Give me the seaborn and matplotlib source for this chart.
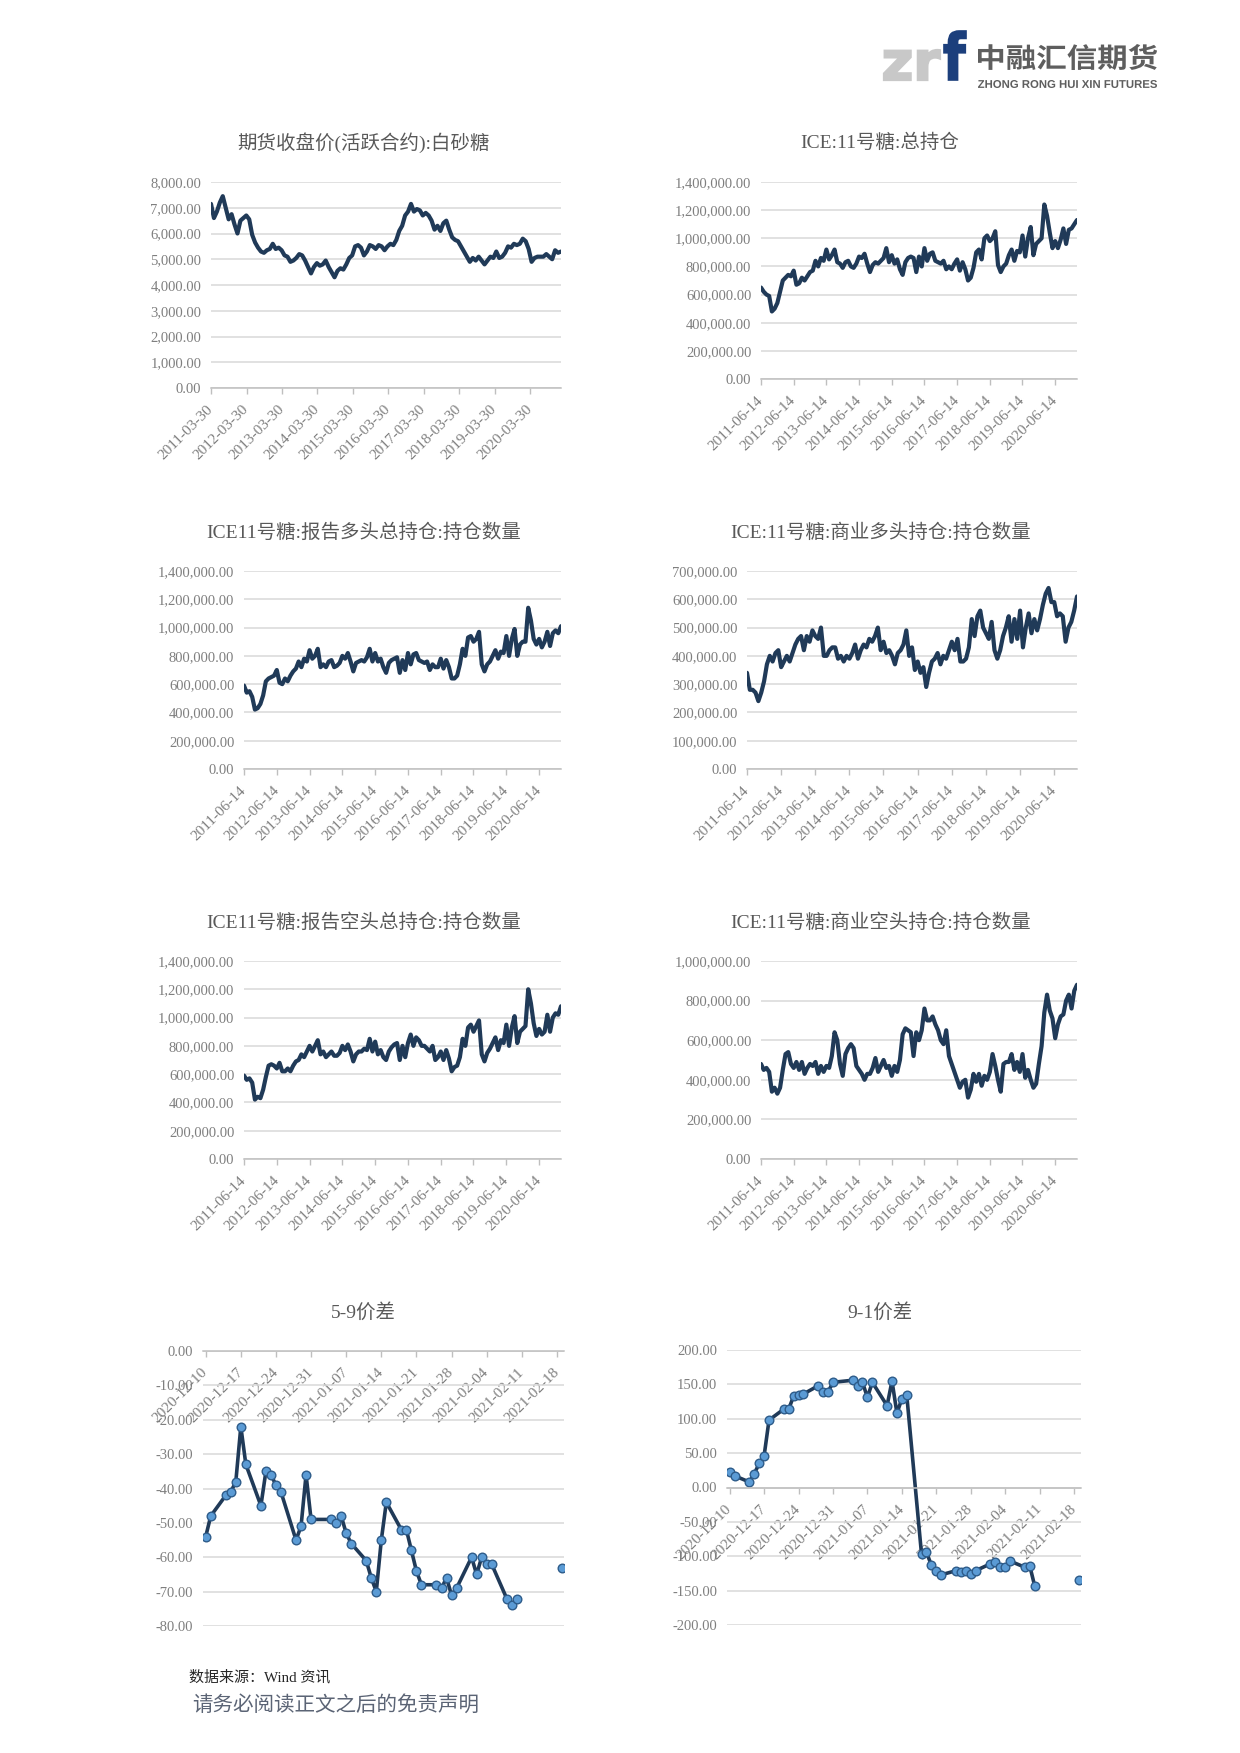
import numpy as np
import pandas as pd
import matplotlib
matplotlib.use('Agg')
import matplotlib.pyplot as plt
from matplotlib.ticker import FuncFormatter
from matplotlib.textpath import TextPath
from matplotlib.patches import PathPatch
from matplotlib.font_manager import FontProperties
import matplotlib.transforms as mtransforms
import seaborn as sns

sns.set_theme(style='white')
plt.rcParams['font.family'] = ['Liberation Serif', 'Noto Sans CJK SC', 'DejaVu Sans']
plt.rcParams['axes.unicode_minus'] = False

# ---------------- data ----------------
price_start, price_end = '2011-03-30', '2021-02-12'
price_tick_labels = ['2011-03-30', '2012-03-30', '2013-03-30', '2014-03-30', '2015-03-30',
                     '2016-03-30', '2017-03-30', '2018-03-30', '2019-03-30', '2020-03-30']
sugar_price = [7150, 6600, 6850, 7200, 7450, 7000, 6550, 6750, 6350, 6000,
               6500, 6600, 6700, 6550, 5950, 5650, 5450, 5300, 5250, 5350,
               5400, 5600, 5400, 5450, 5350, 5150, 5100, 4900, 4950, 5050,
               5200, 5150, 4950, 4700, 4450, 4700, 4850, 4750, 4800, 4950,
               4700, 4500, 4300, 4550, 4650, 4600, 4800, 5050, 5150, 5500,
               5550, 5450, 5150, 5300, 5550, 5500, 5400, 5550, 5500, 5350,
               5500, 5600, 5550, 5750, 6100, 6300, 6700, 6850, 7150, 6850,
               6950, 6900, 6700, 6800, 6700, 6500, 6150, 6300, 6100, 6400,
               6500, 6150, 5850, 5750, 5700, 5500, 5300, 5100, 4900, 5050,
               4950, 5100, 4950, 4800, 4950, 5100, 5050, 5300, 5050, 5100,
               5250, 5500, 5450, 5600, 5550, 5600, 5800, 5700, 5400, 4900,
               5050, 5100, 5100, 5100, 5200, 5100, 5000, 5350, 5250, 5300]

ice_start, ice_end = '2011-06-14', '2021-02-16'
ice_tick_labels = ['2011-06-14', '2012-06-14', '2013-06-14', '2014-06-14', '2015-06-14',
                   '2016-06-14', '2017-06-14', '2018-06-14', '2019-06-14', '2020-06-14']
# values in thousands of contracts
ice_total_k = [650, 620, 600, 590, 480, 500, 540, 620, 700, 720,
               740, 730, 770, 670, 680, 720, 700, 730, 760, 770,
               840, 800, 860, 840, 920, 850, 880, 920, 830, 820,
               790, 830, 840, 800, 790, 820, 870, 860, 890, 820,
               760, 810, 830, 820, 840, 860, 930, 830, 880, 820,
               850, 780, 740, 830, 860, 870, 860, 760, 870, 800,
               930, 840, 890, 900, 840, 830, 820, 840, 780, 800,
               780, 820, 850, 770, 830, 780, 700, 720, 790, 900,
               920, 850, 1000, 1020, 980, 1000, 1050, 810, 760, 800,
               820, 880, 920, 840, 910, 900, 1020, 870, 1000, 1080,
               880, 960, 980, 1000, 1240, 1160, 1040, 930, 980, 930,
               990, 1070, 960, 1060, 1070, 1100, 1130]
long_total_k = [590, 540, 550, 510, 420, 430, 460, 520, 620, 640,
                650, 660, 700, 610, 600, 640, 620, 660, 690, 710,
                760, 720, 780, 760, 840, 780, 800, 850, 720, 740,
                720, 760, 770, 720, 730, 750, 800, 780, 820, 760,
                690, 750, 760, 770, 760, 790, 850, 760, 820, 760,
                780, 720, 680, 750, 770, 780, 790, 680, 770, 700,
                820, 740, 810, 820, 770, 760, 750, 760, 700, 740,
                720, 720, 780, 710, 770, 720, 640, 640, 660, 740,
                850, 800, 930, 940, 900, 920, 970, 740, 690, 740,
                760, 800, 840, 780, 830, 820, 940, 800, 920, 990,
                800, 880, 900, 900, 1140, 1050, 920, 880, 920, 860,
                900, 970, 870, 960, 980, 960, 1010]
comm_long_k = [340, 280, 280, 270, 240, 270, 310, 370, 400, 380,
               410, 420, 360, 380, 400, 380, 410, 440, 460, 470,
               420, 470, 450, 490, 470, 460, 500, 400, 400, 420,
               430, 430, 390, 400, 380, 400, 390, 410, 440, 390,
               420, 440, 430, 460, 450, 470, 500, 420, 450, 410,
               420, 400, 370, 410, 420, 440, 490, 400, 430, 350,
               380, 340, 360, 290, 340, 380, 390, 410, 370, 400,
               390, 420, 450, 420, 460, 380, 380, 390, 430, 530,
               470, 540, 560, 500, 480, 460, 520, 420, 390, 420,
               470, 500, 540, 450, 530, 460, 560, 430, 500, 550,
               480, 530, 490, 530, 580, 620, 640, 590, 590, 540,
               550, 540, 450, 500, 520, 560, 610]
short_total_k = [590, 560, 570, 540, 420, 440, 430, 490, 580, 660,
                 670, 660, 640, 680, 620, 620, 640, 620, 660, 690,
                 700, 740, 720, 760, 800, 760, 800, 840, 740, 760,
                 720, 740, 760, 730, 730, 750, 800, 770, 810, 760,
                 690, 740, 760, 760, 780, 770, 850, 760, 830, 740,
                 770, 720, 700, 760, 790, 810, 820, 700, 800, 720,
                 820, 880, 800, 860, 840, 800, 800, 780, 760, 800,
                 700, 720, 760, 700, 770, 710, 620, 650, 660, 720,
                 850, 800, 930, 950, 900, 940, 980, 740, 690, 750,
                 780, 820, 860, 770, 840, 820, 950, 800, 930, 1010,
                 820, 900, 920, 940, 1200, 1100, 960, 870, 920, 880,
                 900, 1020, 900, 1000, 1030, 1020, 1080]
comm_short_k = [480, 450, 460, 440, 340, 360, 330, 360, 450, 530,
                540, 480, 460, 490, 450, 490, 430, 460, 480, 470,
                490, 430, 470, 440, 470, 460, 520, 640, 600, 480,
                420, 530, 560, 580, 560, 470, 450, 430, 400, 430,
                430, 460, 510, 440, 470, 500, 460, 470, 420, 470,
                440, 500, 630, 660, 650, 640, 520, 640, 600, 650,
                760, 700, 700, 720, 680, 650, 600, 580, 650, 520,
                480, 440, 400, 360, 390, 400, 310, 350, 430, 390,
                430, 370, 420, 400, 440, 530, 470, 400, 340, 480,
                490, 490, 530, 450, 490, 440, 530, 410, 450, 400,
                360, 380, 480, 570, 740, 830, 750, 710, 610, 680,
                720, 730, 800, 830, 760, 850, 880]

spread_dates = ['2020-12-10', '2020-12-11', '2020-12-14', '2020-12-15', '2020-12-16',
                '2020-12-17', '2020-12-18', '2020-12-21', '2020-12-22', '2020-12-23',
                '2020-12-24', '2020-12-25', '2020-12-28', '2020-12-29', '2020-12-30',
                '2020-12-31', '2021-01-04', '2021-01-05', '2021-01-06', '2021-01-07',
                '2021-01-08', '2021-01-11', '2021-01-12', '2021-01-13', '2021-01-14',
                '2021-01-15', '2021-01-18', '2021-01-19', '2021-01-20', '2021-01-21',
                '2021-01-22', '2021-01-25', '2021-01-26', '2021-01-27', '2021-01-28',
                '2021-01-29', '2021-02-01', '2021-02-02', '2021-02-03', '2021-02-04',
                '2021-02-05', '2021-02-08', '2021-02-09', '2021-02-10', '2021-02-19']
spread_59 = [-54, -48, -42, -41, -38, -22, -33, -45, -35, -36, -39, -41, -55, -51, -36, -49,
             -49, -50, -48, -53, -56, -61, -66, -70, -55, -44, -52, -52, -58, -64, -68, -68,
             -69, -66, -71, -69, -60, -65, -60, -62, -62, -72, -74, -72, -63]
spread_91 = [22, 17, 8, 20, 35, 46, 98, 114, 114, 133, 135, 136, 148, 139, 139, 153,
             156, 147, 153, 131, 153, 119, 155, 108, 129, 134, -97, -94, -113, -122, -127, -121,
             -123, -121, -126, -121, -111, -109, -116, -115, -107, -116, -114, -143, -134]
spread_tick_labels = ['2020-12-10', '2020-12-17', '2020-12-24', '2020-12-31', '2021-01-07',
                      '2021-01-14', '2021-01-21', '2021-01-28', '2021-02-04', '2021-02-11',
                      '2021-02-18']

titles = ['期货收盘价(活跃合约):白砂糖', 'ICE:11号糖:总持仓',
          'ICE11号糖:报告多头总持仓:持仓数量', 'ICE:11号糖:商业多头持仓:持仓数量',
          'ICE11号糖:报告空头总持仓:持仓数量', 'ICE:11号糖:商业空头持仓:持仓数量',
          '5-9价差', '9-1价差']

# ---------------- style ----------------
W, H = 1240, 1753
NAVY = '#203a58'
GRID = '#d9d9d9'
AXC = '#bfbfbf'
TXT = '#7f7f7f'
TITLE_C = '#595959'


def rect(l, t, r, b):
    return [l / W, 1 - b / H, (r - l) / W, (b - t) / H]


fig = plt.figure(figsize=(W / 100, H / 100), dpi=100)
fig.patch.set_facecolor('white')

price_dates = pd.date_range(price_start, price_end, periods=len(sugar_price))
ice_dates = pd.date_range(ice_start, ice_end, periods=len(ice_total_k))
k = 1000

line_charts = [
    dict(box=(211, 182, 561, 388), tpos=(363, 143), x=price_dates, y=np.array(sugar_price),
         ylim=(0, 8000), ystep=1000, ticks=price_tick_labels),
    dict(box=(761, 182, 1077, 379), tpos=(880, 143), x=ice_dates, y=np.array(ice_total_k) * k,
         ylim=(0, 1400000), ystep=200000, ticks=ice_tick_labels),
    dict(box=(244, 571, 561, 769), tpos=(364, 533), x=ice_dates, y=np.array(long_total_k) * k,
         ylim=(0, 1400000), ystep=200000, ticks=ice_tick_labels),
    dict(box=(747, 571, 1077, 769), tpos=(881, 533), x=ice_dates, y=np.array(comm_long_k) * k,
         ylim=(0, 700000), ystep=100000, ticks=ice_tick_labels),
    dict(box=(244, 961, 561, 1159), tpos=(364, 923), x=ice_dates, y=np.array(short_total_k) * k,
         ylim=(0, 1400000), ystep=200000, ticks=ice_tick_labels),
    dict(box=(761, 961, 1077, 1159), tpos=(881, 923), x=ice_dates, y=np.array(comm_short_k) * k,
         ylim=(0, 1000000), ystep=200000, ticks=ice_tick_labels),
]

fmt = FuncFormatter(lambda v, p: f'{v:,.2f}')


def style(ax, ylim, ystep, tick_labels, xlim, zero_axis=False):
    if zero_axis:
        ax.spines['bottom'].set_position(('data', 0))
    ax.set_xlim(xlim)
    ax.set_ylim(ylim)
    ax.set_yticks(np.arange(ylim[0], ylim[1] + ystep * 0.5, ystep))
    ax.yaxis.set_major_formatter(fmt)
    ax.set_xticks(pd.to_datetime(tick_labels))
    ax.set_xticklabels(tick_labels, rotation=45, ha='right', va='center',
                       rotation_mode='anchor')
    ax.grid(False)
    ax.yaxis.grid(True, color=GRID, lw=1.1)
    for s in ['top', 'right', 'left']:
        ax.spines[s].set_visible(False)
    ax.spines['bottom'].set_color(AXC)
    ax.spines['bottom'].set_linewidth(1.1)
    ax.tick_params(axis='x', bottom=True, length=4, width=1, color=AXC, direction='out',
                   labelsize=11, labelcolor=TXT, pad=10)
    ax.tick_params(axis='y', left=False, length=0, labelsize=10.5, labelcolor=TXT, pad=7)
    ax.set_xlabel('')
    ax.set_ylabel('')
    ax.set_axisbelow(True)
    ax.set_facecolor('white')


for c in line_charts:
    ax = fig.add_axes(rect(*c['box']))
    sns.lineplot(x=c['x'], y=c['y'], ax=ax, color=NAVY, linewidth=3.0)
    for ln in ax.lines:
        ln.set_solid_joinstyle('round')
    style(ax, c['ylim'], c['ystep'], c['ticks'], (c['x'][0], c['x'][-1]))

# spread charts
sd = pd.to_datetime(spread_dates)
seg = (pd.Series(sd).diff() > pd.Timedelta(days=5)).cumsum().values
spread_charts = [
    dict(box=(203, 1351, 564, 1626), y=spread_59, ylim=(-80, 0), ystep=10),
    dict(box=(727, 1350, 1081, 1625), y=spread_91, ylim=(-200, 200), ystep=50),
]
xl = (sd[0] - pd.Timedelta(hours=13), sd[-1] + pd.Timedelta(hours=10))
for c in spread_charts:
    ax = fig.add_axes(rect(*c['box']))
    df = pd.DataFrame({'date': sd, 'value': c['y'], 'seg': seg})
    sns.lineplot(data=df, x='date', y='value', units='seg', estimator=None, ax=ax,
                 color=NAVY, linewidth=2.6, marker='o', markersize=6.2,
                 markerfacecolor='#5b9bd5', markeredgecolor='#2e5c8a', markeredgewidth=1.0)
    style(ax, c['ylim'], c['ystep'], spread_tick_labels, xl, zero_axis=True)

# ---------------- overlay: titles, logo, footer ----------------
ov = fig.add_axes([0, 0, 1, 1], zorder=10)
ov.set_xlim(0, W)
ov.set_ylim(H, 0)
ov.axis('off')
ov.patch.set_alpha(0)

title_pos = [c['tpos'] for c in line_charts] + [(363, 1312), (880, 1312)]
for (tx, ty), t in zip(title_pos, titles):
    ov.text(tx, ty, t, ha='center', va='center', fontsize=14, color=TITLE_C)


def fit_text(s, box, color, prop, stroke=0.0):
    tp = TextPath((0, 0), s, size=100, prop=prop)
    bb = tp.get_extents()
    l, t, r, b = box
    sx = (r - l) / bb.width
    sy = (b - t) / bb.height
    tr = mtransforms.Affine2D().translate(-bb.x0, -bb.y0).scale(sx, -sy).translate(l, b)
    ov.add_patch(PathPatch(tr.transform_path(tp), facecolor=color,
                           edgecolor=color if stroke else 'none', lw=stroke))


bold_latin = FontProperties(family='DejaVu Sans', weight='bold')
fit_text('zr', (884, 50, 940, 80), '#c8c8c8', bold_latin, stroke=1.6)
fit_text('f', (944, 31, 966, 80), '#1c3f7c', bold_latin, stroke=1.2)
fit_text('中融汇信期货', (978, 44, 1157, 70), '#5e5e5e',
         FontProperties(family='Noto Sans CJK SC', weight='bold'))
fit_text('ZHONG RONG HUI XIN FUTURES', (978, 80, 1157, 88), '#5e5e5e',
         FontProperties(family='Liberation Sans', weight='bold'))

ov.text(189, 1677, '数据来源：Wind 资讯', ha='left', va='center', fontsize=10.8, color='#262626')
ov.text(192, 1705, '请务必阅读正文之后的免责声明', ha='left', va='center', fontsize=14.8,
        color='#5b6475', family=['Noto Sans CJK SC'])

fig.savefig('out.png', dpi=100, facecolor='white')
